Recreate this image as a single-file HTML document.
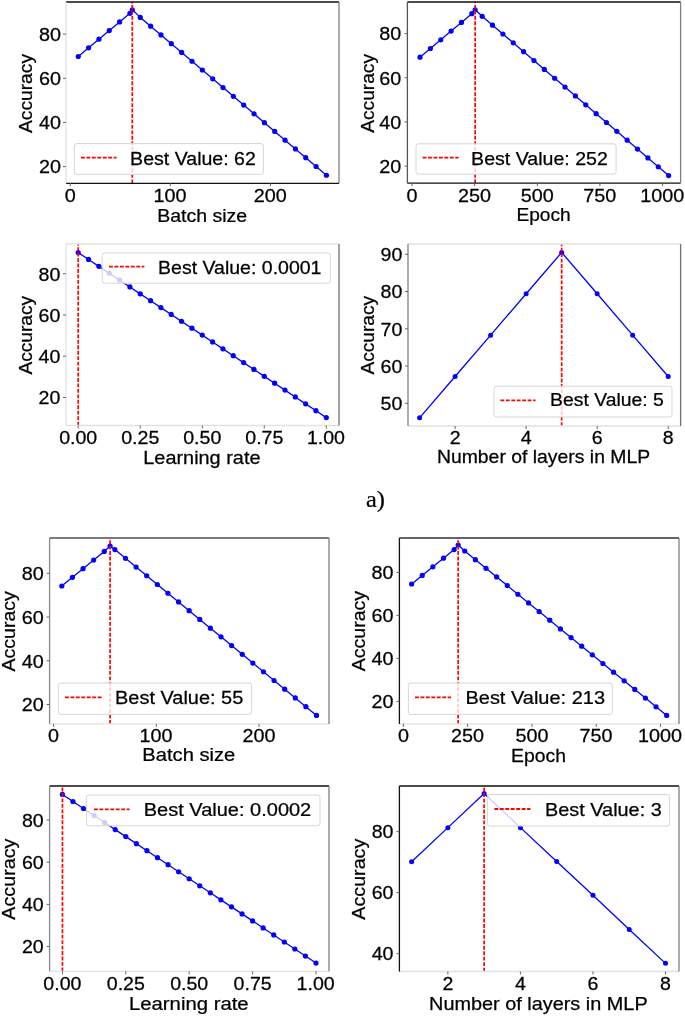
<!DOCTYPE html><html><head><meta charset="utf-8"><style>html,body{margin:0;padding:0;background:#fff;overflow:hidden;width:685px;height:1017px;}svg{display:block;will-change:transform;} text{stroke:#000;stroke-width:0.25px;}</style></head><body>
<svg width="685" height="1017" viewBox="0 0 685 1017">
<rect width="685" height="1017" fill="#fff"/>
<g>
<polyline points="78.26,56.51 88.6,47.87 98.94,39.22 109.28,30.57 119.62,21.92 129.96,13.28 132.3,9.81 140.3,17.38 150.64,26.15 160.98,34.92 171.33,43.7 181.67,52.47 192.01,61.24 202.35,70.01 212.69,78.78 223.03,87.55 233.37,96.32 243.71,105.09 254.05,113.86 264.4,122.63 274.74,131.4 285.08,140.17 295.42,148.94 305.76,157.72 316.1,166.49 326.44,175.26" fill="none" stroke="#0000ff" stroke-width="1.3" stroke-linejoin="round"/>
<circle cx="78.26" cy="56.51" r="2.6" fill="#0000ff"/>
<circle cx="88.6" cy="47.87" r="2.6" fill="#0000ff"/>
<circle cx="98.94" cy="39.22" r="2.6" fill="#0000ff"/>
<circle cx="109.28" cy="30.57" r="2.6" fill="#0000ff"/>
<circle cx="119.62" cy="21.92" r="2.6" fill="#0000ff"/>
<circle cx="129.96" cy="13.28" r="2.6" fill="#0000ff"/>
<circle cx="132.3" cy="9.81" r="2.6" fill="#0000ff"/>
<circle cx="140.3" cy="17.38" r="2.6" fill="#0000ff"/>
<circle cx="150.64" cy="26.15" r="2.6" fill="#0000ff"/>
<circle cx="160.98" cy="34.92" r="2.6" fill="#0000ff"/>
<circle cx="171.33" cy="43.7" r="2.6" fill="#0000ff"/>
<circle cx="181.67" cy="52.47" r="2.6" fill="#0000ff"/>
<circle cx="192.01" cy="61.24" r="2.6" fill="#0000ff"/>
<circle cx="202.35" cy="70.01" r="2.6" fill="#0000ff"/>
<circle cx="212.69" cy="78.78" r="2.6" fill="#0000ff"/>
<circle cx="223.03" cy="87.55" r="2.6" fill="#0000ff"/>
<circle cx="233.37" cy="96.32" r="2.6" fill="#0000ff"/>
<circle cx="243.71" cy="105.09" r="2.6" fill="#0000ff"/>
<circle cx="254.05" cy="113.86" r="2.6" fill="#0000ff"/>
<circle cx="264.4" cy="122.63" r="2.6" fill="#0000ff"/>
<circle cx="274.74" cy="131.4" r="2.6" fill="#0000ff"/>
<circle cx="285.08" cy="140.17" r="2.6" fill="#0000ff"/>
<circle cx="295.42" cy="148.94" r="2.6" fill="#0000ff"/>
<circle cx="305.76" cy="157.72" r="2.6" fill="#0000ff"/>
<circle cx="316.1" cy="166.49" r="2.6" fill="#0000ff"/>
<circle cx="326.44" cy="175.26" r="2.6" fill="#0000ff"/>
<line x1="132.3" y1="183.3" x2="132.3" y2="2" stroke="#ff0000" stroke-width="1.7" stroke-dasharray="3.85 1.6"/>
<rect x="74.4" y="143.6" width="189" height="30.8" rx="2.5" fill="#fff" fill-opacity="0.8" stroke="#d6d6d6" stroke-width="1"/>
<line x1="81" y1="157.6" x2="116.6" y2="157.6" stroke="#ff0000" stroke-width="1.8" stroke-dasharray="3.85 1.6"/>
<text transform="translate(130.09,164.5) scale(1.0578,1)" font-size="18.5" font-family="Liberation Sans" fill="#000" >Best Value: 62</text>
<line x1="66" y1="2" x2="339" y2="2" stroke="#111" stroke-width="1.3"/>
<line x1="66" y1="183.3" x2="339" y2="183.3" stroke="#111" stroke-width="1.3"/>
<line x1="66" y1="2" x2="66" y2="183.3" stroke="#e2e2e2" stroke-width="1.3"/>
<line x1="339" y1="2" x2="339" y2="183.3" stroke="#808080" stroke-width="1.3"/>
<line x1="63" y1="166.6" x2="66" y2="166.6" stroke="#666" stroke-width="1"/>
<text transform="translate(38.96,173.47) scale(1.0700,1)" font-size="18.5" font-family="Liberation Sans" fill="#000">20</text>
<line x1="63" y1="122.43" x2="66" y2="122.43" stroke="#666" stroke-width="1"/>
<text transform="translate(38.96,129.3) scale(1.0700,1)" font-size="18.5" font-family="Liberation Sans" fill="#000">40</text>
<line x1="63" y1="78.27" x2="66" y2="78.27" stroke="#666" stroke-width="1"/>
<text transform="translate(38.96,85.14) scale(1.0700,1)" font-size="18.5" font-family="Liberation Sans" fill="#000">60</text>
<line x1="63" y1="34.1" x2="66" y2="34.1" stroke="#666" stroke-width="1"/>
<text transform="translate(38.96,40.97) scale(1.0700,1)" font-size="18.5" font-family="Liberation Sans" fill="#000">80</text>
<line x1="70.25" y1="183.3" x2="70.25" y2="186.3" stroke="#666" stroke-width="1"/>
<text transform="translate(64.75,201.72) scale(1.0700,1)" font-size="18.5" font-family="Liberation Sans" fill="#000">0</text>
<line x1="170.32" y1="183.3" x2="170.32" y2="186.3" stroke="#666" stroke-width="1"/>
<text transform="translate(153.44,201.72) scale(1.0700,1)" font-size="18.5" font-family="Liberation Sans" fill="#000">100</text>
<line x1="270.4" y1="183.3" x2="270.4" y2="186.3" stroke="#666" stroke-width="1"/>
<text transform="translate(253.78,201.72) scale(1.0700,1)" font-size="18.5" font-family="Liberation Sans" fill="#000">200</text>
<text transform="translate(157.2,221.7) scale(1.0553,1)" font-size="18.5" font-family="Liberation Sans" fill="#000" >Batch size</text>
<text transform="translate(32.11,133.04) rotate(-90) scale(1.0250,1)" font-size="18.76" font-family="Liberation Sans" fill="#000">Accuracy</text>
</g>
<g>
<polyline points="420.02,57.21 430.38,48.51 440.74,39.81 451.09,31.1 461.45,22.4 471.81,13.7 475.15,9.79 482.17,16.31 492.53,25.16 502.88,34.01 513.24,42.86 523.6,51.71 533.96,60.56 544.32,69.4 554.67,78.25 565.03,87.1 575.39,95.95 585.75,104.8 596.11,113.65 606.47,122.5 616.82,131.35 627.18,140.2 637.54,149.05 647.9,157.9 658.26,166.75 668.61,175.6" fill="none" stroke="#0000ff" stroke-width="1.3" stroke-linejoin="round"/>
<circle cx="420.02" cy="57.21" r="2.6" fill="#0000ff"/>
<circle cx="430.38" cy="48.51" r="2.6" fill="#0000ff"/>
<circle cx="440.74" cy="39.81" r="2.6" fill="#0000ff"/>
<circle cx="451.09" cy="31.1" r="2.6" fill="#0000ff"/>
<circle cx="461.45" cy="22.4" r="2.6" fill="#0000ff"/>
<circle cx="471.81" cy="13.7" r="2.6" fill="#0000ff"/>
<circle cx="475.15" cy="9.79" r="2.6" fill="#0000ff"/>
<circle cx="482.17" cy="16.31" r="2.6" fill="#0000ff"/>
<circle cx="492.53" cy="25.16" r="2.6" fill="#0000ff"/>
<circle cx="502.88" cy="34.01" r="2.6" fill="#0000ff"/>
<circle cx="513.24" cy="42.86" r="2.6" fill="#0000ff"/>
<circle cx="523.6" cy="51.71" r="2.6" fill="#0000ff"/>
<circle cx="533.96" cy="60.56" r="2.6" fill="#0000ff"/>
<circle cx="544.32" cy="69.4" r="2.6" fill="#0000ff"/>
<circle cx="554.67" cy="78.25" r="2.6" fill="#0000ff"/>
<circle cx="565.03" cy="87.1" r="2.6" fill="#0000ff"/>
<circle cx="575.39" cy="95.95" r="2.6" fill="#0000ff"/>
<circle cx="585.75" cy="104.8" r="2.6" fill="#0000ff"/>
<circle cx="596.11" cy="113.65" r="2.6" fill="#0000ff"/>
<circle cx="606.47" cy="122.5" r="2.6" fill="#0000ff"/>
<circle cx="616.82" cy="131.35" r="2.6" fill="#0000ff"/>
<circle cx="627.18" cy="140.2" r="2.6" fill="#0000ff"/>
<circle cx="637.54" cy="149.05" r="2.6" fill="#0000ff"/>
<circle cx="647.9" cy="157.9" r="2.6" fill="#0000ff"/>
<circle cx="658.26" cy="166.75" r="2.6" fill="#0000ff"/>
<circle cx="668.61" cy="175.6" r="2.6" fill="#0000ff"/>
<line x1="475.15" y1="183.2" x2="475.15" y2="2" stroke="#ff0000" stroke-width="1.7" stroke-dasharray="3.85 1.6"/>
<rect x="416" y="143.8" width="200.1" height="30.4" rx="2.5" fill="#fff" fill-opacity="0.8" stroke="#d6d6d6" stroke-width="1"/>
<line x1="422.6" y1="157.6" x2="458.6" y2="157.6" stroke="#ff0000" stroke-width="1.8" stroke-dasharray="3.85 1.6"/>
<text transform="translate(471.09,164.6) scale(1.0595,1)" font-size="18.5" font-family="Liberation Sans" fill="#000" >Best Value: 252</text>
<line x1="407.4" y1="2" x2="680.6" y2="2" stroke="#111" stroke-width="1.3"/>
<line x1="407.4" y1="183.2" x2="680.6" y2="183.2" stroke="#111" stroke-width="1.3"/>
<line x1="407.4" y1="2" x2="407.4" y2="183.2" stroke="#555" stroke-width="1.3"/>
<line x1="680.6" y1="2" x2="680.6" y2="183.2" stroke="#808080" stroke-width="1.3"/>
<line x1="404.4" y1="166.1" x2="407.4" y2="166.1" stroke="#666" stroke-width="1"/>
<text transform="translate(379.36,172.97) scale(1.0700,1)" font-size="18.5" font-family="Liberation Sans" fill="#000">20</text>
<line x1="404.4" y1="121.93" x2="407.4" y2="121.93" stroke="#666" stroke-width="1"/>
<text transform="translate(379.36,128.8) scale(1.0700,1)" font-size="18.5" font-family="Liberation Sans" fill="#000">40</text>
<line x1="404.4" y1="77.77" x2="407.4" y2="77.77" stroke="#666" stroke-width="1"/>
<text transform="translate(379.36,84.64) scale(1.0700,1)" font-size="18.5" font-family="Liberation Sans" fill="#000">60</text>
<line x1="404.4" y1="33.6" x2="407.4" y2="33.6" stroke="#666" stroke-width="1"/>
<text transform="translate(379.36,40.47) scale(1.0700,1)" font-size="18.5" font-family="Liberation Sans" fill="#000">80</text>
<line x1="412" y1="183.2" x2="412" y2="186.2" stroke="#666" stroke-width="1"/>
<text transform="translate(406.5,201.92) scale(1.0700,1)" font-size="18.5" font-family="Liberation Sans" fill="#000">0</text>
<line x1="474.65" y1="183.2" x2="474.65" y2="186.2" stroke="#666" stroke-width="1"/>
<text transform="translate(458.03,201.92) scale(1.0700,1)" font-size="18.5" font-family="Liberation Sans" fill="#000">250</text>
<line x1="537.3" y1="183.2" x2="537.3" y2="186.2" stroke="#666" stroke-width="1"/>
<text transform="translate(520.78,201.92) scale(1.0700,1)" font-size="18.5" font-family="Liberation Sans" fill="#000">500</text>
<line x1="599.95" y1="183.2" x2="599.95" y2="186.2" stroke="#666" stroke-width="1"/>
<text transform="translate(583.32,201.92) scale(1.0700,1)" font-size="18.5" font-family="Liberation Sans" fill="#000">750</text>
<line x1="662.6" y1="183.2" x2="662.6" y2="186.2" stroke="#666" stroke-width="1"/>
<text transform="translate(640.21,201.92) scale(1.0700,1)" font-size="18.5" font-family="Liberation Sans" fill="#000">1000</text>
<text transform="translate(516.43,221) scale(1.0334,1)" font-size="18.5" font-family="Liberation Sans" fill="#000" >Epoch</text>
<text transform="translate(373.71,132.84) rotate(-90) scale(1.0224,1)" font-size="18.76" font-family="Liberation Sans" fill="#000">Accuracy</text>
</g>
<g>
<polyline points="78.2,252.59 88.54,259.47 98.88,266.34 109.21,273.22 119.55,280.09 129.89,286.97 140.23,293.84 150.56,300.72 160.9,307.59 171.24,314.47 181.57,321.34 191.91,328.22 202.25,335.09 212.59,341.97 222.93,348.84 233.26,355.72 243.6,362.6 253.94,369.47 264.28,376.35 274.61,383.22 284.95,390.1 295.29,396.97 305.62,403.85 315.96,410.72 326.3,417.6" fill="none" stroke="#0000ff" stroke-width="1.3" stroke-linejoin="round"/>
<circle cx="78.2" cy="252.59" r="2.6" fill="#0000ff"/>
<circle cx="88.54" cy="259.47" r="2.6" fill="#0000ff"/>
<circle cx="98.88" cy="266.34" r="2.6" fill="#0000ff"/>
<circle cx="109.21" cy="273.22" r="2.6" fill="#0000ff"/>
<circle cx="119.55" cy="280.09" r="2.6" fill="#0000ff"/>
<circle cx="129.89" cy="286.97" r="2.6" fill="#0000ff"/>
<circle cx="140.23" cy="293.84" r="2.6" fill="#0000ff"/>
<circle cx="150.56" cy="300.72" r="2.6" fill="#0000ff"/>
<circle cx="160.9" cy="307.59" r="2.6" fill="#0000ff"/>
<circle cx="171.24" cy="314.47" r="2.6" fill="#0000ff"/>
<circle cx="181.57" cy="321.34" r="2.6" fill="#0000ff"/>
<circle cx="191.91" cy="328.22" r="2.6" fill="#0000ff"/>
<circle cx="202.25" cy="335.09" r="2.6" fill="#0000ff"/>
<circle cx="212.59" cy="341.97" r="2.6" fill="#0000ff"/>
<circle cx="222.93" cy="348.84" r="2.6" fill="#0000ff"/>
<circle cx="233.26" cy="355.72" r="2.6" fill="#0000ff"/>
<circle cx="243.6" cy="362.6" r="2.6" fill="#0000ff"/>
<circle cx="253.94" cy="369.47" r="2.6" fill="#0000ff"/>
<circle cx="264.28" cy="376.35" r="2.6" fill="#0000ff"/>
<circle cx="274.61" cy="383.22" r="2.6" fill="#0000ff"/>
<circle cx="284.95" cy="390.1" r="2.6" fill="#0000ff"/>
<circle cx="295.29" cy="396.97" r="2.6" fill="#0000ff"/>
<circle cx="305.62" cy="403.85" r="2.6" fill="#0000ff"/>
<circle cx="315.96" cy="410.72" r="2.6" fill="#0000ff"/>
<circle cx="326.3" cy="417.6" r="2.6" fill="#0000ff"/>
<line x1="78.22" y1="425.5" x2="78.22" y2="244" stroke="#ff0000" stroke-width="1.7" stroke-dasharray="3.85 1.6"/>
<rect x="102.2" y="253" width="228.2" height="30.2" rx="2.5" fill="#fff" fill-opacity="0.8" stroke="#d6d6d6" stroke-width="1"/>
<line x1="109" y1="266.6" x2="144.4" y2="266.6" stroke="#ff0000" stroke-width="1.8" stroke-dasharray="3.85 1.6"/>
<text transform="translate(158.1,273.6) scale(1.0660,1)" font-size="18.3" font-family="Liberation Sans" fill="#000" >Best Value: 0.0001</text>
<line x1="66" y1="244" x2="339" y2="244" stroke="#e2e2e2" stroke-width="1.3"/>
<line x1="66" y1="425.5" x2="339" y2="425.5" stroke="#e2e2e2" stroke-width="1.3"/>
<line x1="66" y1="244" x2="66" y2="425.5" stroke="#e2e2e2" stroke-width="1.3"/>
<line x1="339" y1="244" x2="339" y2="425.5" stroke="#707070" stroke-width="1.3"/>
<line x1="63" y1="397.5" x2="66" y2="397.5" stroke="#666" stroke-width="1"/>
<text transform="translate(38.58,404.3) scale(1.0700,1)" font-size="18.3" font-family="Liberation Sans" fill="#000">20</text>
<line x1="63" y1="356.23" x2="66" y2="356.23" stroke="#666" stroke-width="1"/>
<text transform="translate(38.58,363.03) scale(1.0700,1)" font-size="18.3" font-family="Liberation Sans" fill="#000">40</text>
<line x1="63" y1="314.97" x2="66" y2="314.97" stroke="#666" stroke-width="1"/>
<text transform="translate(38.58,321.77) scale(1.0700,1)" font-size="18.3" font-family="Liberation Sans" fill="#000">60</text>
<line x1="63" y1="273.7" x2="66" y2="273.7" stroke="#666" stroke-width="1"/>
<text transform="translate(38.58,280.5) scale(1.0700,1)" font-size="18.3" font-family="Liberation Sans" fill="#000">80</text>
<line x1="78.2" y1="425.5" x2="78.2" y2="428.5" stroke="#666" stroke-width="1"/>
<text transform="translate(59.14,444.28) scale(1.0700,1)" font-size="18.3" font-family="Liberation Sans" fill="#000">0.00</text>
<line x1="140.23" y1="425.5" x2="140.23" y2="428.5" stroke="#666" stroke-width="1"/>
<text transform="translate(121.2,444.28) scale(1.0700,1)" font-size="18.3" font-family="Liberation Sans" fill="#000">0.25</text>
<line x1="202.25" y1="425.5" x2="202.25" y2="428.5" stroke="#666" stroke-width="1"/>
<text transform="translate(183.19,444.28) scale(1.0700,1)" font-size="18.3" font-family="Liberation Sans" fill="#000">0.50</text>
<line x1="264.28" y1="425.5" x2="264.28" y2="428.5" stroke="#666" stroke-width="1"/>
<text transform="translate(245.25,444.28) scale(1.0700,1)" font-size="18.3" font-family="Liberation Sans" fill="#000">0.75</text>
<line x1="326.3" y1="425.5" x2="326.3" y2="428.5" stroke="#666" stroke-width="1"/>
<text transform="translate(306.88,444.28) scale(1.0700,1)" font-size="18.3" font-family="Liberation Sans" fill="#000">1.00</text>
<text transform="translate(143.27,463.8) scale(1.0869,1)" font-size="18.3" font-family="Liberation Sans" fill="#000" >Learning rate</text>
<text transform="translate(31.76,374.54) rotate(-90) scale(1.0912,1)" font-size="17.53" font-family="Liberation Sans" fill="#000">Accuracy</text>
</g>
<g>
<polyline points="419.6,417.83 455.11,376.48 490.63,335.13 526.14,293.78 561.66,252.44 597.17,293.78 632.69,335.13 668.2,376.48" fill="none" stroke="#0000ff" stroke-width="1.3" stroke-linejoin="round"/>
<circle cx="419.6" cy="417.83" r="2.5" fill="#0000ff"/>
<circle cx="455.11" cy="376.48" r="2.5" fill="#0000ff"/>
<circle cx="490.63" cy="335.13" r="2.5" fill="#0000ff"/>
<circle cx="526.14" cy="293.78" r="2.5" fill="#0000ff"/>
<circle cx="561.66" cy="252.44" r="2.5" fill="#0000ff"/>
<circle cx="597.17" cy="293.78" r="2.5" fill="#0000ff"/>
<circle cx="632.69" cy="335.13" r="2.5" fill="#0000ff"/>
<circle cx="668.2" cy="376.48" r="2.5" fill="#0000ff"/>
<line x1="561.66" y1="426" x2="561.66" y2="244" stroke="#ff0000" stroke-width="1.7" stroke-dasharray="3.85 1.6"/>
<rect x="494" y="386.2" width="178" height="30.8" rx="2.5" fill="#fff" fill-opacity="0.8" stroke="#d6d6d6" stroke-width="1"/>
<line x1="500.4" y1="400.4" x2="535.6" y2="400.4" stroke="#ff0000" stroke-width="1.8" stroke-dasharray="3.85 1.6"/>
<text transform="translate(550.11,406.3) scale(1.0574,1)" font-size="18.3" font-family="Liberation Sans" fill="#000" >Best Value: 5</text>
<line x1="408" y1="244" x2="680.6" y2="244" stroke="#e2e2e2" stroke-width="1.3"/>
<line x1="408" y1="426" x2="680.6" y2="426" stroke="#e2e2e2" stroke-width="1.3"/>
<line x1="408" y1="244" x2="408" y2="426" stroke="#808080" stroke-width="1.3"/>
<line x1="680.6" y1="244" x2="680.6" y2="426" stroke="#707070" stroke-width="1.3"/>
<line x1="405" y1="403.3" x2="408" y2="403.3" stroke="#666" stroke-width="1"/>
<text transform="translate(380.58,410.1) scale(1.0700,1)" font-size="18.3" font-family="Liberation Sans" fill="#000">50</text>
<line x1="405" y1="366.05" x2="408" y2="366.05" stroke="#666" stroke-width="1"/>
<text transform="translate(380.58,372.85) scale(1.0700,1)" font-size="18.3" font-family="Liberation Sans" fill="#000">60</text>
<line x1="405" y1="328.8" x2="408" y2="328.8" stroke="#666" stroke-width="1"/>
<text transform="translate(380.58,335.6) scale(1.0700,1)" font-size="18.3" font-family="Liberation Sans" fill="#000">70</text>
<line x1="405" y1="291.55" x2="408" y2="291.55" stroke="#666" stroke-width="1"/>
<text transform="translate(380.58,298.35) scale(1.0700,1)" font-size="18.3" font-family="Liberation Sans" fill="#000">80</text>
<line x1="405" y1="254.3" x2="408" y2="254.3" stroke="#666" stroke-width="1"/>
<text transform="translate(380.58,261.1) scale(1.0700,1)" font-size="18.3" font-family="Liberation Sans" fill="#000">90</text>
<line x1="455.11" y1="426" x2="455.11" y2="429" stroke="#666" stroke-width="1"/>
<text transform="translate(449.67,444.38) scale(1.0700,1)" font-size="18.3" font-family="Liberation Sans" fill="#000">2</text>
<line x1="526.14" y1="426" x2="526.14" y2="429" stroke="#666" stroke-width="1"/>
<text transform="translate(520.76,444.19) scale(1.0700,1)" font-size="18.3" font-family="Liberation Sans" fill="#000">4</text>
<line x1="597.17" y1="426" x2="597.17" y2="429" stroke="#666" stroke-width="1"/>
<text transform="translate(591.66,444.38) scale(1.0700,1)" font-size="18.3" font-family="Liberation Sans" fill="#000">6</text>
<line x1="668.2" y1="426" x2="668.2" y2="429" stroke="#666" stroke-width="1"/>
<text transform="translate(662.75,444.38) scale(1.0700,1)" font-size="18.3" font-family="Liberation Sans" fill="#000">8</text>
<text transform="translate(436.91,463.4) scale(1.0598,1)" font-size="18.3" font-family="Liberation Sans" fill="#000" >Number of layers in MLP</text>
<text transform="translate(373.58,374.54) rotate(-90) scale(1.0383,1)" font-size="18.43" font-family="Liberation Sans" fill="#000">Accuracy</text>
</g>
<g>
<polyline points="61.82,586 72.43,577.36 83.04,568.71 93.65,560.06 104.27,551.41 110.09,546.01 114.88,549.6 125.49,558.32 136.1,567.05 146.71,575.77 157.33,584.5 167.94,593.23 178.55,601.95 189.16,610.68 199.78,619.4 210.39,628.13 221,636.86 231.61,645.58 242.23,654.31 252.84,663.03 263.45,671.76 274.06,680.49 284.68,689.21 295.29,697.94 305.9,706.66 316.51,715.39" fill="none" stroke="#0000ff" stroke-width="1.3" stroke-linejoin="round"/>
<circle cx="61.82" cy="586" r="2.6" fill="#0000ff"/>
<circle cx="72.43" cy="577.36" r="2.6" fill="#0000ff"/>
<circle cx="83.04" cy="568.71" r="2.6" fill="#0000ff"/>
<circle cx="93.65" cy="560.06" r="2.6" fill="#0000ff"/>
<circle cx="104.27" cy="551.41" r="2.6" fill="#0000ff"/>
<circle cx="110.09" cy="546.01" r="2.6" fill="#0000ff"/>
<circle cx="114.88" cy="549.6" r="2.6" fill="#0000ff"/>
<circle cx="125.49" cy="558.32" r="2.6" fill="#0000ff"/>
<circle cx="136.1" cy="567.05" r="2.6" fill="#0000ff"/>
<circle cx="146.71" cy="575.77" r="2.6" fill="#0000ff"/>
<circle cx="157.33" cy="584.5" r="2.6" fill="#0000ff"/>
<circle cx="167.94" cy="593.23" r="2.6" fill="#0000ff"/>
<circle cx="178.55" cy="601.95" r="2.6" fill="#0000ff"/>
<circle cx="189.16" cy="610.68" r="2.6" fill="#0000ff"/>
<circle cx="199.78" cy="619.4" r="2.6" fill="#0000ff"/>
<circle cx="210.39" cy="628.13" r="2.6" fill="#0000ff"/>
<circle cx="221" cy="636.86" r="2.6" fill="#0000ff"/>
<circle cx="231.61" cy="645.58" r="2.6" fill="#0000ff"/>
<circle cx="242.23" cy="654.31" r="2.6" fill="#0000ff"/>
<circle cx="252.84" cy="663.03" r="2.6" fill="#0000ff"/>
<circle cx="263.45" cy="671.76" r="2.6" fill="#0000ff"/>
<circle cx="274.06" cy="680.49" r="2.6" fill="#0000ff"/>
<circle cx="284.68" cy="689.21" r="2.6" fill="#0000ff"/>
<circle cx="295.29" cy="697.94" r="2.6" fill="#0000ff"/>
<circle cx="305.9" cy="706.66" r="2.6" fill="#0000ff"/>
<circle cx="316.51" cy="715.39" r="2.6" fill="#0000ff"/>
<line x1="110.09" y1="723.9" x2="110.09" y2="538" stroke="#ff0000" stroke-width="1.7" stroke-dasharray="3.85 1.6"/>
<rect x="58.4" y="683" width="193.2" height="31.4" rx="2.5" fill="#fff" fill-opacity="0.8" stroke="#d6d6d6" stroke-width="1"/>
<line x1="65" y1="697.4" x2="102" y2="697.4" stroke="#ff0000" stroke-width="1.8" stroke-dasharray="3.85 1.6"/>
<text transform="translate(115.06,704.3) scale(1.0785,1)" font-size="18.5" font-family="Liberation Sans" fill="#000" >Best Value: 55</text>
<line x1="49.6" y1="538" x2="329" y2="538" stroke="#505050" stroke-width="1.3"/>
<line x1="49.6" y1="723.9" x2="329" y2="723.9" stroke="#e2e2e2" stroke-width="1.3"/>
<line x1="49.6" y1="538" x2="49.6" y2="723.9" stroke="#888" stroke-width="1.3"/>
<line x1="329" y1="538" x2="329" y2="723.9" stroke="#808080" stroke-width="1.3"/>
<line x1="46.6" y1="704.5" x2="49.6" y2="704.5" stroke="#666" stroke-width="1"/>
<text transform="translate(21.76,711.37) scale(1.0700,1)" font-size="18.5" font-family="Liberation Sans" fill="#000">20</text>
<line x1="46.6" y1="660.77" x2="49.6" y2="660.77" stroke="#666" stroke-width="1"/>
<text transform="translate(21.76,667.64) scale(1.0700,1)" font-size="18.5" font-family="Liberation Sans" fill="#000">40</text>
<line x1="46.6" y1="617.03" x2="49.6" y2="617.03" stroke="#666" stroke-width="1"/>
<text transform="translate(21.76,623.9) scale(1.0700,1)" font-size="18.5" font-family="Liberation Sans" fill="#000">60</text>
<line x1="46.6" y1="573.3" x2="49.6" y2="573.3" stroke="#666" stroke-width="1"/>
<text transform="translate(21.76,580.17) scale(1.0700,1)" font-size="18.5" font-family="Liberation Sans" fill="#000">80</text>
<line x1="53.6" y1="723.9" x2="53.6" y2="726.9" stroke="#666" stroke-width="1"/>
<text transform="translate(48.1,742.12) scale(1.0700,1)" font-size="18.5" font-family="Liberation Sans" fill="#000">0</text>
<line x1="156.3" y1="723.9" x2="156.3" y2="726.9" stroke="#666" stroke-width="1"/>
<text transform="translate(139.42,742.12) scale(1.0700,1)" font-size="18.5" font-family="Liberation Sans" fill="#000">100</text>
<line x1="259" y1="723.9" x2="259" y2="726.9" stroke="#666" stroke-width="1"/>
<text transform="translate(242.38,742.12) scale(1.0700,1)" font-size="18.5" font-family="Liberation Sans" fill="#000">200</text>
<text transform="translate(142.35,761) scale(1.0891,1)" font-size="18.5" font-family="Liberation Sans" fill="#000" >Batch size</text>
<text transform="translate(14.94,671.54) rotate(-90) scale(1.0236,1)" font-size="19.1" font-family="Liberation Sans" fill="#000">Accuracy</text>
</g>
<g>
<polyline points="411.63,584.01 422.25,575.41 432.88,566.81 443.51,558.21 454.13,549.61 458.16,545.01 464.76,551.01 475.39,559.66 486.01,568.31 496.64,576.96 507.27,585.62 517.9,594.27 528.52,602.92 539.15,611.57 549.78,620.22 560.4,628.88 571.03,637.53 581.66,646.18 592.28,654.83 602.91,663.48 613.54,672.14 624.16,680.79 634.79,689.44 645.42,698.09 656.04,706.74 666.67,715.4" fill="none" stroke="#0000ff" stroke-width="1.3" stroke-linejoin="round"/>
<circle cx="411.63" cy="584.01" r="2.6" fill="#0000ff"/>
<circle cx="422.25" cy="575.41" r="2.6" fill="#0000ff"/>
<circle cx="432.88" cy="566.81" r="2.6" fill="#0000ff"/>
<circle cx="443.51" cy="558.21" r="2.6" fill="#0000ff"/>
<circle cx="454.13" cy="549.61" r="2.6" fill="#0000ff"/>
<circle cx="458.16" cy="545.01" r="2.6" fill="#0000ff"/>
<circle cx="464.76" cy="551.01" r="2.6" fill="#0000ff"/>
<circle cx="475.39" cy="559.66" r="2.6" fill="#0000ff"/>
<circle cx="486.01" cy="568.31" r="2.6" fill="#0000ff"/>
<circle cx="496.64" cy="576.96" r="2.6" fill="#0000ff"/>
<circle cx="507.27" cy="585.62" r="2.6" fill="#0000ff"/>
<circle cx="517.9" cy="594.27" r="2.6" fill="#0000ff"/>
<circle cx="528.52" cy="602.92" r="2.6" fill="#0000ff"/>
<circle cx="539.15" cy="611.57" r="2.6" fill="#0000ff"/>
<circle cx="549.78" cy="620.22" r="2.6" fill="#0000ff"/>
<circle cx="560.4" cy="628.88" r="2.6" fill="#0000ff"/>
<circle cx="571.03" cy="637.53" r="2.6" fill="#0000ff"/>
<circle cx="581.66" cy="646.18" r="2.6" fill="#0000ff"/>
<circle cx="592.28" cy="654.83" r="2.6" fill="#0000ff"/>
<circle cx="602.91" cy="663.48" r="2.6" fill="#0000ff"/>
<circle cx="613.54" cy="672.14" r="2.6" fill="#0000ff"/>
<circle cx="624.16" cy="680.79" r="2.6" fill="#0000ff"/>
<circle cx="634.79" cy="689.44" r="2.6" fill="#0000ff"/>
<circle cx="645.42" cy="698.09" r="2.6" fill="#0000ff"/>
<circle cx="656.04" cy="706.74" r="2.6" fill="#0000ff"/>
<circle cx="666.67" cy="715.4" r="2.6" fill="#0000ff"/>
<line x1="458.16" y1="723.9" x2="458.16" y2="538" stroke="#ff0000" stroke-width="1.7" stroke-dasharray="3.85 1.6"/>
<rect x="408.4" y="683" width="204" height="31.4" rx="2.5" fill="#fff" fill-opacity="0.8" stroke="#d6d6d6" stroke-width="1"/>
<line x1="415" y1="697.4" x2="451" y2="697.4" stroke="#ff0000" stroke-width="1.8" stroke-dasharray="3.85 1.6"/>
<text transform="translate(465.46,704.3) scale(1.0796,1)" font-size="18.5" font-family="Liberation Sans" fill="#000" >Best Value: 213</text>
<line x1="399.4" y1="538" x2="679" y2="538" stroke="#333" stroke-width="1.3"/>
<line x1="399.4" y1="723.9" x2="679" y2="723.9" stroke="#e2e2e2" stroke-width="1.3"/>
<line x1="399.4" y1="538" x2="399.4" y2="723.9" stroke="#111" stroke-width="1.3"/>
<line x1="679" y1="538" x2="679" y2="723.9" stroke="#808080" stroke-width="1.3"/>
<line x1="396.4" y1="701.4" x2="399.4" y2="701.4" stroke="#666" stroke-width="1"/>
<text transform="translate(371.56,708.27) scale(1.0700,1)" font-size="18.5" font-family="Liberation Sans" fill="#000">20</text>
<line x1="396.4" y1="658.4" x2="399.4" y2="658.4" stroke="#666" stroke-width="1"/>
<text transform="translate(371.56,665.27) scale(1.0700,1)" font-size="18.5" font-family="Liberation Sans" fill="#000">40</text>
<line x1="396.4" y1="615.4" x2="399.4" y2="615.4" stroke="#666" stroke-width="1"/>
<text transform="translate(371.56,622.27) scale(1.0700,1)" font-size="18.5" font-family="Liberation Sans" fill="#000">60</text>
<line x1="396.4" y1="572.4" x2="399.4" y2="572.4" stroke="#666" stroke-width="1"/>
<text transform="translate(371.56,579.27) scale(1.0700,1)" font-size="18.5" font-family="Liberation Sans" fill="#000">80</text>
<line x1="403.4" y1="723.9" x2="403.4" y2="726.9" stroke="#666" stroke-width="1"/>
<text transform="translate(397.9,742.22) scale(1.0700,1)" font-size="18.5" font-family="Liberation Sans" fill="#000">0</text>
<line x1="467.67" y1="723.9" x2="467.67" y2="726.9" stroke="#666" stroke-width="1"/>
<text transform="translate(451.05,742.22) scale(1.0700,1)" font-size="18.5" font-family="Liberation Sans" fill="#000">250</text>
<line x1="531.95" y1="723.9" x2="531.95" y2="726.9" stroke="#666" stroke-width="1"/>
<text transform="translate(515.43,742.22) scale(1.0700,1)" font-size="18.5" font-family="Liberation Sans" fill="#000">500</text>
<line x1="596.22" y1="723.9" x2="596.22" y2="726.9" stroke="#666" stroke-width="1"/>
<text transform="translate(579.59,742.22) scale(1.0700,1)" font-size="18.5" font-family="Liberation Sans" fill="#000">750</text>
<line x1="660.5" y1="723.9" x2="660.5" y2="726.9" stroke="#666" stroke-width="1"/>
<text transform="translate(638.11,742.22) scale(1.0700,1)" font-size="18.5" font-family="Liberation Sans" fill="#000">1000</text>
<text transform="translate(511.01,761.5) scale(1.0475,1)" font-size="18.5" font-family="Liberation Sans" fill="#000" >Epoch</text>
<text transform="translate(364.78,671.24) rotate(-90) scale(1.0357,1)" font-size="18.87" font-family="Liberation Sans" fill="#000">Accuracy</text>
</g>
<g>
<polyline points="62.4,794.47 72.97,801.49 83.53,808.52 94.1,815.54 104.67,822.57 115.23,829.59 125.8,836.62 136.37,843.64 146.93,850.67 157.5,857.69 168.07,864.71 178.63,871.74 189.2,878.76 199.77,885.79 210.33,892.81 220.9,899.84 231.47,906.86 242.03,913.89 252.6,920.91 263.17,927.94 273.73,934.96 284.3,941.98 294.87,949.01 305.43,956.03 316,963.06" fill="none" stroke="#0000ff" stroke-width="1.3" stroke-linejoin="round"/>
<circle cx="62.4" cy="794.47" r="2.6" fill="#0000ff"/>
<circle cx="72.97" cy="801.49" r="2.6" fill="#0000ff"/>
<circle cx="83.53" cy="808.52" r="2.6" fill="#0000ff"/>
<circle cx="94.1" cy="815.54" r="2.6" fill="#0000ff"/>
<circle cx="104.67" cy="822.57" r="2.6" fill="#0000ff"/>
<circle cx="115.23" cy="829.59" r="2.6" fill="#0000ff"/>
<circle cx="125.8" cy="836.62" r="2.6" fill="#0000ff"/>
<circle cx="136.37" cy="843.64" r="2.6" fill="#0000ff"/>
<circle cx="146.93" cy="850.67" r="2.6" fill="#0000ff"/>
<circle cx="157.5" cy="857.69" r="2.6" fill="#0000ff"/>
<circle cx="168.07" cy="864.71" r="2.6" fill="#0000ff"/>
<circle cx="178.63" cy="871.74" r="2.6" fill="#0000ff"/>
<circle cx="189.2" cy="878.76" r="2.6" fill="#0000ff"/>
<circle cx="199.77" cy="885.79" r="2.6" fill="#0000ff"/>
<circle cx="210.33" cy="892.81" r="2.6" fill="#0000ff"/>
<circle cx="220.9" cy="899.84" r="2.6" fill="#0000ff"/>
<circle cx="231.47" cy="906.86" r="2.6" fill="#0000ff"/>
<circle cx="242.03" cy="913.89" r="2.6" fill="#0000ff"/>
<circle cx="252.6" cy="920.91" r="2.6" fill="#0000ff"/>
<circle cx="263.17" cy="927.94" r="2.6" fill="#0000ff"/>
<circle cx="273.73" cy="934.96" r="2.6" fill="#0000ff"/>
<circle cx="284.3" cy="941.98" r="2.6" fill="#0000ff"/>
<circle cx="294.87" cy="949.01" r="2.6" fill="#0000ff"/>
<circle cx="305.43" cy="956.03" r="2.6" fill="#0000ff"/>
<circle cx="316" cy="963.06" r="2.6" fill="#0000ff"/>
<line x1="62.45" y1="971.3" x2="62.45" y2="786" stroke="#ff0000" stroke-width="1.7" stroke-dasharray="3.85 1.6"/>
<rect x="86.4" y="795" width="233.6" height="30.8" rx="2.5" fill="#fff" fill-opacity="0.8" stroke="#d6d6d6" stroke-width="1"/>
<line x1="94" y1="809.4" x2="129.6" y2="809.4" stroke="#ff0000" stroke-width="1.8" stroke-dasharray="3.85 1.6"/>
<text transform="translate(143.76,816) scale(1.0938,1)" font-size="18.3" font-family="Liberation Sans" fill="#000" >Best Value: 0.0002</text>
<line x1="49.6" y1="786" x2="329" y2="786" stroke="#111" stroke-width="1.3"/>
<line x1="49.6" y1="971.3" x2="329" y2="971.3" stroke="#e2e2e2" stroke-width="1.3"/>
<line x1="49.6" y1="786" x2="49.6" y2="971.3" stroke="#888" stroke-width="1.3"/>
<line x1="329" y1="786" x2="329" y2="971.3" stroke="#808080" stroke-width="1.3"/>
<line x1="46.6" y1="946.6" x2="49.6" y2="946.6" stroke="#666" stroke-width="1"/>
<text transform="translate(21.98,953.4) scale(1.0700,1)" font-size="18.3" font-family="Liberation Sans" fill="#000">20</text>
<line x1="46.6" y1="904.4" x2="49.6" y2="904.4" stroke="#666" stroke-width="1"/>
<text transform="translate(21.98,911.2) scale(1.0700,1)" font-size="18.3" font-family="Liberation Sans" fill="#000">40</text>
<line x1="46.6" y1="862.2" x2="49.6" y2="862.2" stroke="#666" stroke-width="1"/>
<text transform="translate(21.98,869) scale(1.0700,1)" font-size="18.3" font-family="Liberation Sans" fill="#000">60</text>
<line x1="46.6" y1="820" x2="49.6" y2="820" stroke="#666" stroke-width="1"/>
<text transform="translate(21.98,826.8) scale(1.0700,1)" font-size="18.3" font-family="Liberation Sans" fill="#000">80</text>
<line x1="62.4" y1="971.3" x2="62.4" y2="974.3" stroke="#666" stroke-width="1"/>
<text transform="translate(43.34,989.88) scale(1.0700,1)" font-size="18.3" font-family="Liberation Sans" fill="#000">0.00</text>
<line x1="125.8" y1="971.3" x2="125.8" y2="974.3" stroke="#666" stroke-width="1"/>
<text transform="translate(106.77,989.88) scale(1.0700,1)" font-size="18.3" font-family="Liberation Sans" fill="#000">0.25</text>
<line x1="189.2" y1="971.3" x2="189.2" y2="974.3" stroke="#666" stroke-width="1"/>
<text transform="translate(170.14,989.88) scale(1.0700,1)" font-size="18.3" font-family="Liberation Sans" fill="#000">0.50</text>
<line x1="252.6" y1="971.3" x2="252.6" y2="974.3" stroke="#666" stroke-width="1"/>
<text transform="translate(233.57,989.88) scale(1.0700,1)" font-size="18.3" font-family="Liberation Sans" fill="#000">0.75</text>
<line x1="316" y1="971.3" x2="316" y2="974.3" stroke="#666" stroke-width="1"/>
<text transform="translate(296.58,989.88) scale(1.0700,1)" font-size="18.3" font-family="Liberation Sans" fill="#000">1.00</text>
<text transform="translate(128.93,1010.2) scale(1.1106,1)" font-size="18.3" font-family="Liberation Sans" fill="#000" >Learning rate</text>
<text transform="translate(14.94,919.64) rotate(-90) scale(1.0312,1)" font-size="19.1" font-family="Liberation Sans" fill="#000">Accuracy</text>
</g>
<g>
<polyline points="411.6,861.8 447.87,827.63 484.14,793.48 520.41,827.63 556.69,861.49 592.96,895.35 629.23,929.5 665.5,963.36" fill="none" stroke="#0000ff" stroke-width="1.3" stroke-linejoin="round"/>
<circle cx="411.6" cy="861.8" r="2.5" fill="#0000ff"/>
<circle cx="447.87" cy="827.63" r="2.5" fill="#0000ff"/>
<circle cx="484.14" cy="793.48" r="2.5" fill="#0000ff"/>
<circle cx="520.41" cy="827.63" r="2.5" fill="#0000ff"/>
<circle cx="556.69" cy="861.49" r="2.5" fill="#0000ff"/>
<circle cx="592.96" cy="895.35" r="2.5" fill="#0000ff"/>
<circle cx="629.23" cy="929.5" r="2.5" fill="#0000ff"/>
<circle cx="665.5" cy="963.36" r="2.5" fill="#0000ff"/>
<line x1="484.14" y1="971.5" x2="484.14" y2="786" stroke="#ff0000" stroke-width="1.7" stroke-dasharray="3.85 1.6"/>
<rect x="487.4" y="794.6" width="182.2" height="31.4" rx="2.5" fill="#fff" fill-opacity="0.8" stroke="#d6d6d6" stroke-width="1"/>
<line x1="494.4" y1="809" x2="530.4" y2="809" stroke="#ff0000" stroke-width="1.8" stroke-dasharray="3.85 1.6"/>
<text transform="translate(545.07,815.5) scale(1.0859,1)" font-size="18.3" font-family="Liberation Sans" fill="#000" >Best Value: 3</text>
<line x1="399.4" y1="786" x2="679" y2="786" stroke="#111" stroke-width="1.3"/>
<line x1="399.4" y1="971.5" x2="679" y2="971.5" stroke="#e2e2e2" stroke-width="1.3"/>
<line x1="399.4" y1="786" x2="399.4" y2="971.5" stroke="#111" stroke-width="1.3"/>
<line x1="679" y1="786" x2="679" y2="971.5" stroke="#808080" stroke-width="1.3"/>
<line x1="396.4" y1="953.6" x2="399.4" y2="953.6" stroke="#666" stroke-width="1"/>
<text transform="translate(371.68,960.4) scale(1.0700,1)" font-size="18.3" font-family="Liberation Sans" fill="#000">40</text>
<line x1="396.4" y1="892.6" x2="399.4" y2="892.6" stroke="#666" stroke-width="1"/>
<text transform="translate(371.68,899.4) scale(1.0700,1)" font-size="18.3" font-family="Liberation Sans" fill="#000">60</text>
<line x1="396.4" y1="831.6" x2="399.4" y2="831.6" stroke="#666" stroke-width="1"/>
<text transform="translate(371.68,838.4) scale(1.0700,1)" font-size="18.3" font-family="Liberation Sans" fill="#000">80</text>
<line x1="447.87" y1="971.5" x2="447.87" y2="974.5" stroke="#666" stroke-width="1"/>
<text transform="translate(442.43,990.28) scale(1.0700,1)" font-size="18.3" font-family="Liberation Sans" fill="#000">2</text>
<line x1="520.41" y1="971.5" x2="520.41" y2="974.5" stroke="#666" stroke-width="1"/>
<text transform="translate(515.03,990.09) scale(1.0700,1)" font-size="18.3" font-family="Liberation Sans" fill="#000">4</text>
<line x1="592.96" y1="971.5" x2="592.96" y2="974.5" stroke="#666" stroke-width="1"/>
<text transform="translate(587.45,990.28) scale(1.0700,1)" font-size="18.3" font-family="Liberation Sans" fill="#000">6</text>
<line x1="665.5" y1="971.5" x2="665.5" y2="974.5" stroke="#666" stroke-width="1"/>
<text transform="translate(660.05,990.28) scale(1.0700,1)" font-size="18.3" font-family="Liberation Sans" fill="#000">8</text>
<text transform="translate(429.07,1010.3) scale(1.0859,1)" font-size="18.3" font-family="Liberation Sans" fill="#000" >Number of layers in MLP</text>
<text transform="translate(364.78,919.64) rotate(-90) scale(1.0434,1)" font-size="18.87" font-family="Liberation Sans" fill="#000">Accuracy</text>
</g>
<text transform="translate(366.04,507.2) scale(1.0593,1)" font-size="23" font-family="Liberation Serif" fill="#000" >a)</text>
</svg></body></html>
